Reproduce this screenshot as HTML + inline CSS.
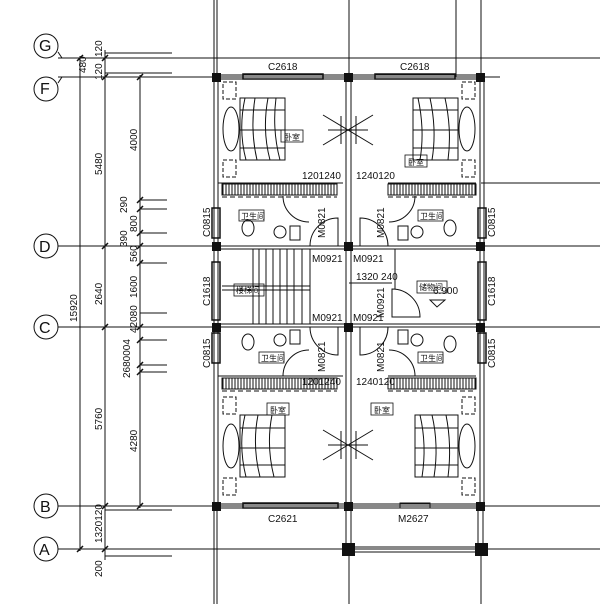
<!DOCTYPE html>
<html><head><meta charset="utf-8"><style>
html,body{margin:0;padding:0;background:#fff;}
svg{display:block;}
text{font-family:"Liberation Sans","Noto Sans CJK SC",sans-serif;fill:#111;}
</style></head><body>
<svg width="600" height="604" viewBox="0 0 600 604" xmlns="http://www.w3.org/2000/svg">
<g stroke="#111" stroke-width="1" fill="none">
<!-- top/bottom vertical grid lines -->
<line x1="214" y1="0" x2="214" y2="77"/><line x1="217" y1="0" x2="217" y2="77"/>
<line x1="349" y1="0" x2="349" y2="77"/><line x1="456" y1="0" x2="456" y2="77"/><line x1="481" y1="0" x2="481" y2="77"/>
<line x1="214" y1="506" x2="214" y2="604"/><line x1="217" y1="506" x2="217" y2="604"/>
<line x1="349" y1="549" x2="349" y2="604"/><line x1="481" y1="549" x2="481" y2="604"/>
<!-- horizontal grid lines -->
<line x1="58" y1="58" x2="600" y2="58"/>
<line x1="58" y1="77" x2="500" y2="77"/>
<line x1="481" y1="183" x2="600" y2="183"/>
<line x1="58" y1="246" x2="600" y2="246"/>
<line x1="58" y1="327" x2="600" y2="327"/>
<line x1="58" y1="506" x2="600" y2="506"/>
<line x1="58" y1="549" x2="600" y2="549"/>
<line x1="105" y1="53" x2="172" y2="53"/><line x1="105" y1="73" x2="172" y2="73"/>
<line x1="105" y1="510" x2="172" y2="510"/><line x1="105" y1="556" x2="172" y2="556"/>
<!-- axis circles -->
<circle cx="46" cy="46" r="12"/><line x1="58" y1="52" x2="62" y2="58"/>
<circle cx="46" cy="89" r="12"/><line x1="58" y1="83" x2="62" y2="77"/>
<circle cx="46" cy="246" r="12"/><circle cx="46" cy="327" r="12"/>
<circle cx="46" cy="506" r="12"/><circle cx="46" cy="549" r="12"/>
<!-- dimension lines -->
<line x1="80" y1="56" x2="80" y2="551"/>
<line x1="105" y1="50" x2="105" y2="560"/>
<line x1="140" y1="75" x2="140" y2="508"/>
<g stroke-width="1.5">
<line x1="77" y1="61" x2="83" y2="55"/><line x1="77" y1="552" x2="83" y2="546"/>
<line x1="102" y1="61" x2="108" y2="55"/><line x1="102" y1="80" x2="108" y2="74"/><line x1="102" y1="249" x2="108" y2="243"/><line x1="102" y1="330" x2="108" y2="324"/><line x1="102" y1="509" x2="108" y2="503"/><line x1="102" y1="552" x2="108" y2="546"/>
<line x1="137" y1="80" x2="143" y2="74"/><line x1="137" y1="203" x2="143" y2="197"/><line x1="137" y1="212" x2="143" y2="206"/><line x1="137" y1="236" x2="143" y2="230"/><line x1="137" y1="249" x2="143" y2="243"/><line x1="137" y1="266" x2="143" y2="260"/><line x1="137" y1="330" x2="143" y2="324"/><line x1="137" y1="343" x2="143" y2="337"/><line x1="137" y1="368" x2="143" y2="362"/><line x1="137" y1="375" x2="143" y2="369"/><line x1="137" y1="509" x2="143" y2="503"/>
</g>
<line x1="140" y1="200" x2="167" y2="200"/><line x1="140" y1="209" x2="167" y2="209"/><line x1="140" y1="233" x2="167" y2="233"/><line x1="140" y1="263" x2="167" y2="263"/>
<line x1="140" y1="313" x2="167" y2="313"/><line x1="140" y1="340" x2="167" y2="340"/><line x1="140" y1="365" x2="167" y2="365"/><line x1="140" y1="372" x2="167" y2="372"/>
</g>
<!-- walls -->
<g stroke="#111" fill="none" stroke-width="1">
<rect x="214" y="75" width="270" height="433"/>
<rect x="218" y="79" width="262" height="425"/>
<line x1="346" y1="77" x2="346" y2="506"/><line x1="351" y1="77" x2="351" y2="506"/>
<line x1="218" y1="246" x2="480" y2="246"/><line x1="218" y1="249" x2="480" y2="249"/>
<line x1="218" y1="324" x2="480" y2="324"/><line x1="218" y1="327" x2="480" y2="327"/>
<line x1="218" y1="183" x2="343" y2="183"/><line x1="388" y1="183" x2="476" y2="183"/>
<line x1="218" y1="376" x2="343" y2="376"/><line x1="388" y1="376" x2="476" y2="376"/>
<!-- windows -->
<rect x="243" y="74" width="80" height="5" stroke-width="1.5"/>
<rect x="375" y="74" width="80" height="5" stroke-width="1.5"/>
<rect x="243" y="503" width="95" height="5" stroke-width="1.5"/>
<rect x="400" y="503" width="30" height="5"/>
<rect x="212" y="208" width="8" height="30" stroke-width="1.5"/>
<rect x="212" y="262" width="8" height="58" stroke-width="1.5"/>
<rect x="212" y="333" width="8" height="30" stroke-width="1.5"/>
<rect x="478" y="208" width="8" height="30" stroke-width="1.5"/>
<rect x="478" y="262" width="8" height="58" stroke-width="1.5"/>
<rect x="478" y="333" width="8" height="30" stroke-width="1.5"/>
<!-- porch -->
<line x1="346" y1="506" x2="346" y2="549"/><line x1="351" y1="506" x2="351" y2="549"/>
<line x1="478" y1="506" x2="478" y2="549"/><line x1="483" y1="506" x2="483" y2="549"/>
<line x1="349" y1="547" x2="481" y2="547"/><line x1="349" y1="552" x2="481" y2="552"/>
</g>
<g fill="#111">
<rect x="212" y="73" width="9" height="9"/><rect x="344" y="73" width="9" height="9"/><rect x="476" y="73" width="9" height="9"/>
<rect x="212" y="242" width="9" height="9"/><rect x="344" y="242" width="9" height="9"/><rect x="476" y="242" width="9" height="9"/>
<rect x="212" y="323" width="9" height="9"/><rect x="344" y="323" width="9" height="9"/><rect x="476" y="323" width="9" height="9"/>
<rect x="212" y="502" width="9" height="9"/><rect x="344" y="502" width="9" height="9"/><rect x="476" y="502" width="9" height="9"/>
<rect x="342" y="543" width="13" height="13"/><rect x="475" y="543" width="13" height="13"/>
</g>
<!-- closets hatched -->
<defs><pattern id="h" width="3" height="12" patternUnits="userSpaceOnUse"><line x1="1" y1="0" x2="1" y2="12" stroke="#111" stroke-width="1"/></pattern></defs>
<g stroke="#111" fill="none">
<rect x="222" y="184" width="115" height="11" fill="url(#h)"/>
<rect x="388" y="184" width="88" height="11" fill="url(#h)"/>
<rect x="222" y="378" width="115" height="11" fill="url(#h)"/>
<rect x="388" y="378" width="88" height="11" fill="url(#h)"/>
<line x1="222" y1="197" x2="337" y2="197" stroke-dasharray="5,3"/>
<line x1="388" y1="197" x2="476" y2="197" stroke-dasharray="5,3"/>
<line x1="222" y1="391" x2="337" y2="391" stroke-dasharray="5,3"/>
<line x1="388" y1="391" x2="476" y2="391" stroke-dasharray="5,3"/>
<!-- beds -->
<g>
<rect x="240" y="98" width="45" height="62"/><path d="M245 98 Q238 130 246 160 M255 98 Q250 130 257 160 M268 98 Q262 130 270 160 M276 98 Q272 130 280 160"/>
<line x1="240" y1="110" x2="285" y2="110"/><line x1="240" y1="130" x2="285" y2="130"/><line x1="240" y1="148" x2="285" y2="148"/>
<ellipse cx="231" cy="129" rx="8" ry="22"/><rect x="223" y="82" width="13" height="17" stroke-dasharray="4,2"/><rect x="223" y="160" width="13" height="17" stroke-dasharray="4,2"/>
<rect x="413" y="98" width="45" height="62"/><path d="M418 98 Q425 130 420 160 M430 98 Q437 130 432 160 M445 98 Q452 130 448 160"/>
<line x1="413" y1="110" x2="458" y2="110"/><line x1="413" y1="130" x2="458" y2="130"/><line x1="413" y1="148" x2="458" y2="148"/>
<ellipse cx="467" cy="129" rx="8" ry="22"/><rect x="462" y="82" width="13" height="17" stroke-dasharray="4,2"/><rect x="462" y="160" width="13" height="17" stroke-dasharray="4,2"/>
<rect x="240" y="415" width="45" height="62"/><path d="M245 415 Q238 445 246 477 M258 415 Q252 445 260 477 M272 415 Q266 445 274 477"/>
<line x1="240" y1="428" x2="285" y2="428"/><line x1="240" y1="448" x2="285" y2="448"/><line x1="240" y1="465" x2="285" y2="465"/>
<ellipse cx="231" cy="446" rx="8" ry="22"/><rect x="223" y="397" width="13" height="17" stroke-dasharray="4,2"/><rect x="223" y="478" width="13" height="17" stroke-dasharray="4,2"/>
<rect x="415" y="415" width="43" height="62"/><path d="M420 415 Q427 445 422 477 M432 415 Q439 445 434 477 M446 415 Q452 445 448 477"/>
<line x1="415" y1="428" x2="458" y2="428"/><line x1="415" y1="448" x2="458" y2="448"/><line x1="415" y1="465" x2="458" y2="465"/>
<ellipse cx="467" cy="446" rx="8" ry="22"/><rect x="462" y="397" width="13" height="17" stroke-dasharray="4,2"/><rect x="462" y="478" width="13" height="17" stroke-dasharray="4,2"/>
</g>
<!-- ceiling fixtures -->
<path d="M323 115 L373 145 M323 145 L373 115 M328 130 L368 130 M341 116 L341 144 M356 116 L356 144"/>
<path d="M323 430 L373 460 M323 460 L373 430 M328 445 L368 445 M341 431 L341 459 M356 431 L356 459"/>
<!-- stairs -->
<rect x="253" y="249" width="57" height="75"/>
<line x1="259" y1="249" x2="259" y2="324"/><line x1="266" y1="249" x2="266" y2="324"/><line x1="273" y1="249" x2="273" y2="324"/><line x1="280" y1="249" x2="280" y2="324"/><line x1="287" y1="249" x2="287" y2="324"/><line x1="294" y1="249" x2="294" y2="324"/><line x1="302" y1="249" x2="302" y2="324"/>
<line x1="222" y1="286" x2="310" y2="286"/><line x1="222" y1="290" x2="310" y2="290"/>
<!-- bath fixtures -->
<circle cx="280" cy="232" r="6"/><circle cx="417" cy="232" r="6"/><circle cx="280" cy="340" r="6"/><circle cx="417" cy="340" r="6"/>
<ellipse cx="248" cy="228" rx="6" ry="8"/><ellipse cx="450" cy="228" rx="6" ry="8"/><ellipse cx="248" cy="342" rx="6" ry="8"/><ellipse cx="450" cy="344" rx="6" ry="8"/>
<rect x="290" y="226" width="10" height="14"/><rect x="398" y="226" width="10" height="14"/><rect x="290" y="330" width="10" height="14"/><rect x="398" y="330" width="10" height="14"/>
<!-- doors -->
<path d="M310 246 A28 28 0 0 1 338 218 L338 246"/><path d="M388 246 A28 28 0 0 0 360 218 L360 246"/>
<path d="M283 196 A26 26 0 0 0 309 222"/><path d="M415 196 A26 26 0 0 1 389 222"/>
<path d="M310 327 A28 28 0 0 0 338 355 L338 327"/><path d="M388 327 A28 28 0 0 1 360 355 L360 327"/>
<path d="M283 376 A26 26 0 0 1 309 350"/><path d="M415 376 A26 26 0 0 0 389 350"/>
<path d="M392 289 A28 28 0 0 1 420 317 L392 317 Z"/>
<line x1="395" y1="249" x2="395" y2="289"/>
<path d="M430 300 L445 300 L437 307 Z"/>
<line x1="349" y1="283" x2="392" y2="283"/>
</g>
<!-- room labels -->
<g font-size="8" stroke="#111" stroke-width="0.8" fill="none">
<rect x="281" y="130" width="22" height="12"/><rect x="405" y="155" width="22" height="12"/>
<rect x="267" y="403" width="22" height="12"/><rect x="371" y="403" width="22" height="12"/>
<rect x="239" y="210" width="25" height="11"/><rect x="418" y="210" width="25" height="11"/>
<rect x="259" y="352" width="25" height="11"/><rect x="418" y="352" width="25" height="11"/>
<rect x="234" y="284" width="30" height="12"/><rect x="417" y="281" width="30" height="12"/>
</g>
<g font-size="8">
<text x="284" y="140">卧室</text><text x="408" y="165">卧室</text>
<text x="270" y="413">卧室</text><text x="374" y="413">卧室</text>
<text x="241" y="219">卫生间</text><text x="420" y="219">卫生间</text>
<text x="261" y="361">卫生间</text><text x="420" y="361">卫生间</text>
<text x="236" y="293">楼梯间</text><text x="419" y="290">储物间</text>
</g>
<g font-size="10">
<text x="268" y="70">C2618</text><text x="400" y="70">C2618</text>
<text x="268" y="522">C2621</text><text x="398" y="522">M2627</text>
<text x="312" y="262">M0921</text><text x="353" y="262">M0921</text>
<text x="312" y="321">M0921</text><text x="353" y="321">M0921</text>
<text x="356" y="280">1320 240</text><text x="433" y="294">6.900</text>
<text x="302" y="179">1201240</text><text x="356" y="179">1240120</text>
<text x="302" y="385">1201240</text><text x="356" y="385">1240120</text>
<text x="39" y="51" font-family="Liberation Serif" font-size="16">G</text>
<text x="40" y="94" font-family="Liberation Serif" font-size="16">F</text>
<text x="39" y="252" font-family="Liberation Serif" font-size="16">D</text>
<text x="39" y="333" font-family="Liberation Serif" font-size="16">C</text>
<text x="40" y="512" font-family="Liberation Serif" font-size="16">B</text>
<text x="39" y="555" font-family="Liberation Serif" font-size="16">A</text>
</g>
<g font-size="10">
<text transform="translate(210,237) rotate(-90)">C0815</text>
<text transform="translate(210,306) rotate(-90)">C1618</text>
<text transform="translate(210,368) rotate(-90)">C0815</text>
<text transform="translate(495,237) rotate(-90)">C0815</text>
<text transform="translate(495,306) rotate(-90)">C1618</text>
<text transform="translate(495,368) rotate(-90)">C0815</text>
<text transform="translate(325,238) rotate(-90)">M0821</text>
<text transform="translate(384,238) rotate(-90)">M0821</text>
<text transform="translate(325,372) rotate(-90)">M0821</text>
<text transform="translate(384,372) rotate(-90)">M0821</text>
<text transform="translate(384,318) rotate(-90)">M0921</text>
<text transform="translate(77,322) rotate(-90)">15920</text>
<text transform="translate(102,175) rotate(-90)">5480</text>
<text transform="translate(102,305) rotate(-90)">2640</text>
<text transform="translate(102,430) rotate(-90)">5760</text>
<text transform="translate(102,543) rotate(-90)">1320120</text>
<text transform="translate(102,577) rotate(-90)">200</text>
<text transform="translate(102,57) rotate(-90)">120</text>
<text transform="translate(86,73) rotate(-90)">480</text>
<text transform="translate(102,80) rotate(-90)">120</text>
<text transform="translate(137,151) rotate(-90)">4000</text>
<text transform="translate(127,213) rotate(-90)">290</text>
<text transform="translate(137,232) rotate(-90)">800</text>
<text transform="translate(127,247) rotate(-90)">390</text>
<text transform="translate(137,262) rotate(-90)">560</text>
<text transform="translate(137,298) rotate(-90)">1600</text>
<text transform="translate(137,333) rotate(-90)">42080</text>
<text transform="translate(130,378) rotate(-90)">2680004</text>
<text transform="translate(137,452) rotate(-90)">4280</text>
</g>
</svg>
</body></html>
